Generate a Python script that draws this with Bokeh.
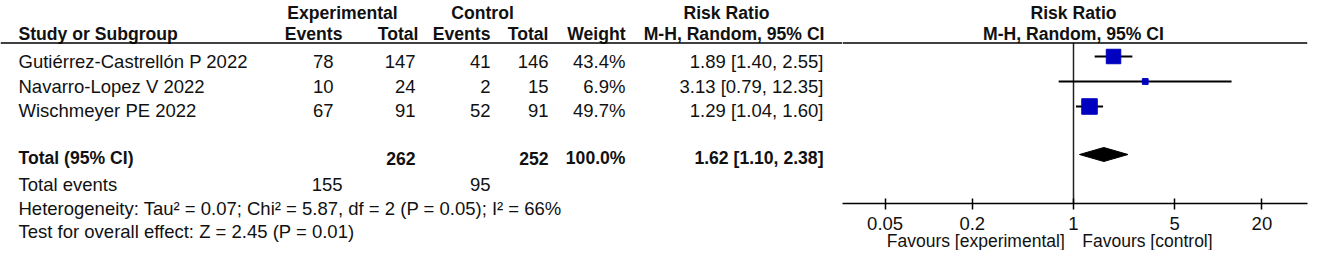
import math
from bokeh.plotting import figure
from bokeh.layouts import row, column
from bokeh.models import Range1d, FixedTicker, ColumnDataSource, Span
from bokeh.core.properties import value
from bokeh.embed import file_html
from bokeh.resources import INLINE

# ---------------- data ----------------
studies = ["Gutiérrez-Castrellón P 2022", "Navarro-Lopez V 2022", "Wischmeyer PE 2022"]
exp_events = [78, 10, 67]
exp_total = [147, 24, 91]
ctl_events = [41, 2, 52]
ctl_total = [146, 15, 91]
weights = [43.4, 6.9, 49.7]
rr = [1.89, 3.13, 1.29]
rr_lo = [1.40, 0.79, 1.04]
rr_hi = [2.55, 12.35, 1.60]

total_exp_events = 155
total_ctl_events = 95
total_exp_n = 262
total_ctl_n = 252
total_weight = 100.0
pooled_rr = 1.62
pooled_lo = 1.10
pooled_hi = 2.38

heterogeneity = "Heterogeneity: Tau\u00b2 = 0.07; Chi\u00b2 = 5.87, df = 2 (P = 0.05); I\u00b2 = 66%"
overall_effect = "Test for overall effect: Z = 2.45 (P = 0.01)"

tick_values = [0.05, 0.2, 1, 5, 20]
tick_labels = ["0.05", "0.2", "1", "5", "20"]
favours_left = "Favours [experimental]"
favours_right = "Favours [control]"

# ---------------- layout / style ----------------
FONT = "Liberation Sans"
FS = "18.5px"
FSB = "17.6px"
TXT = "#111111"
row_text_y = [61, 85.5, 110]
row_mark_y = [56, 81, 106]
HDR1_Y, HDR2_Y, LINE_Y = 12, 33, 42.5
TOT_Y, TOT_MARK_Y, EV_Y, HET_Y, TEST_Y = 157.5, 154, 184, 207.5, 230.5
AXIS_Y = 203
TICK_LABEL_Y = 223
FAV_Y = 240
H_TOTAL = 250

def txt(p, x, y, s, align="left", bold=False, size=None, **kw):
    p.text(x=[x], y=[y], text=[s], text_align=align, text_baseline="middle",
           text_font=value(FONT), text_font_size=size or (FSB if bold else FS),
           text_font_style="bold" if bold else "normal", text_color=TXT, **kw)

# ---------------- left table ----------------
left = figure(width=842, height=H_TOTAL, x_range=Range1d(0, 842), y_range=Range1d(H_TOTAL, 0),
              x_axis_location=None, y_axis_location=None, toolbar_location=None,
              output_backend="svg", min_border=0, outline_line_color=None)
left.xgrid.visible = False
left.ygrid.visible = False

# headers
txt(left, 342, HDR1_Y, "Experimental", "center", True)
txt(left, 482, HDR1_Y, "Control", "center", True)
txt(left, 726, HDR1_Y, "Risk Ratio", "center", True)
txt(left, 18, HDR2_Y, "Study or Subgroup", "left", True)
txt(left, 342, HDR2_Y, "Events", "right", True)
txt(left, 418, HDR2_Y, "Total", "right", True)
txt(left, 490, HDR2_Y, "Events", "right", True)
txt(left, 548, HDR2_Y, "Total", "right", True)
txt(left, 625, HDR2_Y, "Weight", "right", True)
txt(left, 824, HDR2_Y, "M-H, Random, 95% CI", "right", True)
left.add_layout(Span(location=LINE_Y, dimension="width", line_color="black", line_width=1.5))

src = ColumnDataSource(dict(
    y=row_text_y,
    study=studies,
    ee=[str(v) for v in exp_events],
    et=[str(v) for v in exp_total],
    ce=[str(v) for v in ctl_events],
    ct=[str(v) for v in ctl_total],
    w=[f"{v:.1f}%" for v in weights],
    ci=[f"{a:.2f} [{b:.2f}, {c:.2f}]" for a, b, c in zip(rr, rr_lo, rr_hi)],
))
for col, x, align in [("study", 18, "left"), ("ee", 333, "right"), ("et", 415, "right"),
                      ("ce", 490, "right"), ("ct", 548, "right"), ("w", 625, "right"),
                      ("ci", 823, "right")]:
    left.text(x=x, y="y", text=col, source=src, text_align=align, text_baseline="middle",
              text_font=value(FONT), text_font_size=FS, text_color=TXT)

# totals
txt(left, 18, TOT_Y, "Total (95% CI)", "left", True)
txt(left, 415, TOT_Y, str(total_exp_n), "right", True)
txt(left, 548, TOT_Y, str(total_ctl_n), "right", True)
txt(left, 625, TOT_Y, f"{total_weight:.1f}%", "right", True)
txt(left, 823, TOT_Y, f"{pooled_rr:.2f} [{pooled_lo:.2f}, {pooled_hi:.2f}]", "right", True)
txt(left, 18, EV_Y, "Total events")
txt(left, 342, EV_Y, str(total_exp_events), "right")
txt(left, 490, EV_Y, str(total_ctl_events), "right")
txt(left, 18, HET_Y, heterogeneity)
txt(left, 18, TEST_Y, overall_effect)

# ---------------- forest panel ----------------
PX_DEC = 144.8
ONE_X = 1073.0
xr = Range1d(10 ** ((842 - ONE_X) / PX_DEC), 10 ** ((1307 - ONE_X) / PX_DEC))

TICK_OUT = 6
PANEL = 7
fr = figure(width=475, height=AXIS_Y + PANEL, x_axis_type="log", x_range=xr,
            y_range=Range1d(AXIS_Y, 0),
            y_axis_location=None, toolbar_location=None, output_backend="svg",
            min_border_left=0, min_border_right=10, min_border_top=0,
            min_border_bottom=PANEL, outline_line_color=None)
fr.xgrid.visible = False
fr.ygrid.visible = False
ax = fr.xaxis[0]
ax.ticker = FixedTicker(ticks=tick_values, minor_ticks=[])
ax.axis_line_color = "black"
ax.axis_line_width = 1.5
ax.major_tick_line_color = "black"
ax.major_tick_line_width = 1.5
ax.major_tick_in = 5
ax.major_tick_out = TICK_OUT
ax.minor_tick_line_color = None
ax.major_label_standoff = 0
ax.major_label_text_font_size = "1px"
ax.major_label_text_color = None   # tick labels are written in the panel below

txt(fr, 1, HDR1_Y, "Risk Ratio", "center", True)
txt(fr, 1, HDR2_Y, "M-H, Random, 95% CI", "center", True)
fr.add_layout(Span(location=LINE_Y, dimension="width", line_color="black", line_width=1.5))
fr.segment(x0=[1], x1=[1], y0=[LINE_Y], y1=[AXIS_Y], line_color="#222222", line_width=1.5)

fr.segment(x0=rr_lo, x1=rr_hi, y0=row_mark_y, y1=row_mark_y, line_color="black", line_width=2)
fr.scatter(x=rr, y=row_mark_y, marker="square", size=[2.2 * math.sqrt(w) for w in weights],
           fill_color="#0000C0", line_color="#0000C0")
fr.patch(x=[pooled_lo, pooled_rr, pooled_hi, pooled_rr],
         y=[TOT_MARK_Y, TOT_MARK_Y - 7, TOT_MARK_Y, TOT_MARK_Y + 7],
         fill_color="black", line_color="black")

fav_top = AXIS_Y + PANEL
fav = figure(width=475, height=H_TOTAL - fav_top, x_axis_type="log", x_range=xr,
             y_range=Range1d(H_TOTAL, fav_top),
             x_axis_location=None, y_axis_location=None, toolbar_location=None,
             output_backend="svg", min_border_left=0, min_border_right=10,
             min_border_top=0, min_border_bottom=0, outline_line_color=None)
fav.xgrid.visible = False
fav.ygrid.visible = False
fav.text(x=tick_values, y=[TICK_LABEL_Y] * len(tick_values), text=tick_labels,
         text_align="center", text_baseline="middle", text_font=value(FONT),
         text_font_size=FS, text_color=TXT)
txt(fav, 0.87, FAV_Y, favours_left, "right", size="17.5px")
txt(fav, 1.15, FAV_Y, favours_right, "left", size="17.5px")

layout = row(left, column(fr, fav))
open("out.html", "w").write(file_html(layout, INLINE))
